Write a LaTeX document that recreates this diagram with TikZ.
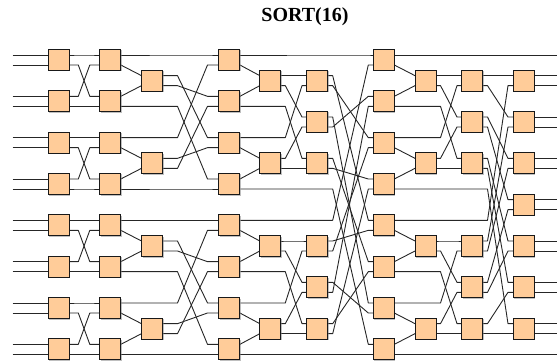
\documentclass[tikz,border=0pt]{standalone}
\usepackage{fontspec}
\setmainfont{Liberation Serif}
\usetikzlibrary{calc,shadows,backgrounds}
\newcommand\wirelink[3]{\draw[wire] (#1) -- (#1 -| g#3-a) -- (#2 -| g#3-b) -- (#2);}
\begin{document}
\begin{tikzpicture}[x=1pt, y=-1pt,
  cmp/.style={draw=black!90, fill=orange!40, minimum width=21pt, minimum height=21pt,
    inner sep=0pt, line width=0.85pt,
    drop shadow={shadow xshift=1pt, shadow yshift=-1pt, fill=black!50}},
  wire/.style={draw=black!85, line width=0.9pt, line join=round},
  ttl/.style={font=\fontsize{20}{24}\selectfont\bfseries}
]
\useasboundingbox (0,0) rectangle (557,363);
\node[ttl] (title) at (305,17) {SORT(16)};
\coordinate (inl) at (12.7,0);
\coordinate (outr) at (557,0);
\foreach \g/\ga/\gb in {2/78.3/89.8, 3/120.8/141.5, 4/177.5/207.5, 5/239.9/259.8,
    6/285.3/302, 7/332.7/368.3, 8/394.3/415, 9/440.5/457, 10/487.5/508} {
  \coordinate (g\g-a) at (\ga,0);
  \coordinate (g\g-b) at (\gb,0);
}
\foreach \k/\xk/\rowlist in {1/58.8/{0,2,4,6,8,10,12,14}, 2/110.3/{0,2,4,6,8,10,12,14},
    3/152/{1,5,9,13}, 4/229.4/{0,2,4,6,8,10,12,14}, 5/270.3/{1,5,9,13},
    6/317.2/{1,3,5,9,11,13}, 7/383.8/{0,2,4,6,8,10,12,14}, 8/425.5/{1,5,9,13},
    9/472/{1,3,5,9,11,13}, 10/523.7/{1,3,5,7,9,11,13}} {
  \foreach \r in \rowlist {
    \node[cmp] (b\k-\r) at (\xk, {60+\r*20.667}) {};
    \coordinate (b\k-\r-ti) at ($(b\k-\r.west)+(0,-5)$);
    \coordinate (b\k-\r-bi) at ($(b\k-\r.west)+(0,5)$);
    \coordinate (b\k-\r-to) at ($(b\k-\r.east)+(0,-5)$);
    \coordinate (b\k-\r-bo) at ($(b\k-\r.east)+(0,5)$);
  }
}
\begin{scope}[on background layer]
\foreach \r in {0,2,4,6,8,10,12,14} {
  \draw[wire] (b1-\r-ti -| inl) -- (b1-\r-ti);
  \draw[wire] (b1-\r-bi -| inl) -- (b1-\r-bi);
}
\foreach \R/\rA/\rB in {0/1/2, 4/5/6, 8/9/10, 12/13/14} {
  \wirelink{b1-\R-to}{b2-\R-ti}{2}
  \wirelink{b1-\rB-to}{b2-\R-bi}{2}
  \wirelink{b1-\R-bo}{b2-\rB-ti}{2}
  \wirelink{b1-\rB-bo}{b2-\rB-bi}{2}
  \wirelink{b2-\R-bo}{b3-\rA-ti}{3}
  \wirelink{b2-\rB-to}{b3-\rA-bi}{3}
  \wirelink{b7-\R-bo}{b8-\rA-ti}{8}
  \wirelink{b7-\rB-to}{b8-\rA-bi}{8}
}
\foreach \R/\rA/\rB/\rC/\rD/\rE/\rF in {0/1/2/3/4/5/6, 8/9/10/11/12/13/14} {
  \wirelink{b2-\R-to}{b4-\R-ti}{4}
  \wirelink{b2-\rD-to}{b4-\R-bi}{4}
  \wirelink{b3-\rA-bo}{b4-\rB-ti}{4}
  \wirelink{b3-\rE-bo}{b4-\rB-bi}{4}
  \wirelink{b3-\rA-to}{b4-\rD-ti}{4}
  \wirelink{b3-\rE-to}{b4-\rD-bi}{4}
  \wirelink{b2-\rB-bo}{b4-\rF-ti}{4}
  \wirelink{b2-\rF-bo}{b4-\rF-bi}{4}
  \wirelink{b4-\R-bo}{b5-\rA-ti}{5}
  \wirelink{b4-\rB-to}{b5-\rA-bi}{5}
  \wirelink{b4-\rD-bo}{b5-\rE-ti}{5}
  \wirelink{b4-\rF-to}{b5-\rE-bi}{5}
  \wirelink{b5-\rA-to}{b6-\rA-ti}{6}
  \wirelink{b4-\rD-to}{b6-\rA-bi}{6}
  \wirelink{b5-\rA-bo}{b6-\rC-ti}{6}
  \wirelink{b5-\rE-to}{b6-\rC-bi}{6}
  \wirelink{b4-\rB-bo}{b6-\rE-ti}{6}
  \wirelink{b5-\rE-bo}{b6-\rE-bi}{6}
}
\foreach \p/\q in {b4-0-to/b7-0-ti, b4-8-to/b7-0-bi, b6-3-bo/b7-2-ti, b6-11-bo/b7-2-bi,
    b6-1-bo/b7-4-ti, b6-9-bo/b7-4-bi, b6-5-bo/b7-6-ti, b6-13-bo/b7-6-bi,
    b6-1-to/b7-8-ti, b6-9-to/b7-8-bi, b6-5-to/b7-10-ti, b6-13-to/b7-10-bi,
    b6-3-to/b7-12-ti, b6-11-to/b7-12-bi, b4-6-bo/b7-14-ti, b4-14-bo/b7-14-bi} {
  \wirelink{\p}{\q}{7}
}
\foreach \p/\q in {b8-1-to/b9-1-ti, b7-4-to/b9-1-bi, b8-1-bo/b9-3-ti, b8-5-to/b9-3-bi,
    b7-2-bo/b9-5-ti, b8-5-bo/b9-5-bi, b8-9-to/b9-9-ti, b7-12-to/b9-9-bi,
    b8-9-bo/b9-11-ti, b8-13-to/b9-11-bi, b7-10-bo/b9-13-ti, b8-13-bo/b9-13-bi} {
  \wirelink{\p}{\q}{9}
}
\foreach \p/\q in {b9-1-to/b10-1-ti, b7-8-to/b10-1-bi, b9-1-bo/b10-3-ti, b9-9-to/b10-3-bi,
    b9-3-to/b10-5-ti, b9-9-bo/b10-5-bi, b9-3-bo/b10-7-ti, b9-11-to/b10-7-bi,
    b9-5-to/b10-9-ti, b9-11-bo/b10-9-bi, b9-5-bo/b10-11-ti, b9-13-to/b10-11-bi,
    b7-6-bo/b10-13-ti, b9-13-bo/b10-13-bi} {
  \wirelink{\p}{\q}{10}
}
\foreach \r in {1,3,5,7,9,11,13} {
  \draw[wire] (b10-\r-to) -- (b10-\r-to -| outr);
  \draw[wire] (b10-\r-bo) -- (b10-\r-bo -| outr);
}
\draw[wire] (b7-0-to) -- (b7-0-to -| outr);
\draw[wire] (b7-14-bo) -- (b7-14-bo -| outr);
\end{scope}
\end{tikzpicture}
\end{document}
